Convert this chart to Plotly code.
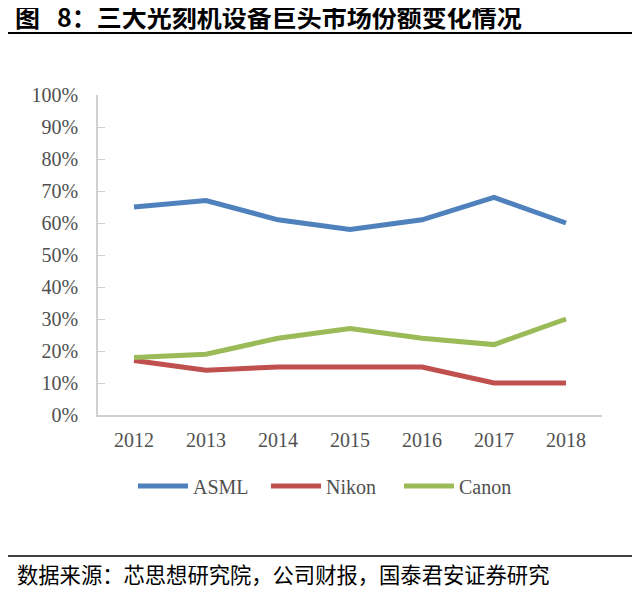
import plotly.graph_objects as go

# Data (market share, %)
years = ["2012", "2013", "2014", "2015", "2016", "2017", "2018"]
asml = [65, 67, 61, 58, 61, 68, 60]
nikon = [17, 14, 15, 15, 15, 10, 10]
canon = [18, 19, 24, 27, 24, 22, 30]

series_names = ["ASML", "Nikon", "Canon"]
series_colors = ["#4F81BD", "#C0504D", "#9BBB59"]

title_text = "图\u00a0\u00a0\u00a08：三大光刻机设备巨头市场份额变化情况"
source_text = "数据来源：芯思想研究院，公司财报，国泰君安证券研究"

# the page body has an 8px margin, so the figure is 8px smaller
OFF = 8
W, H = 640 - OFF, 591 - OFF
L, R, T, B = 98 - OFF, 38, 95 - OFF, 176
pw, ph = W - L - R, H - T - B


# helpers: reference-picture pixels -> paper coords
def px_x(x):
    return (x - OFF - L) / pw


def px_y(y):
    return (H - B - (y - OFF)) / ph


fig = go.Figure()
for name, vals, col in zip(series_names, [asml, nikon, canon], series_colors):
    fig.add_trace(go.Scatter(
        x=years, y=[v / 100 for v in vals], name=name, mode="lines",
        line=dict(color=col, width=5),
    ))

axis_font = dict(family="Liberation Serif", size=20, color="#505050")

fig.update_layout(
    width=W, height=H,
    margin=dict(l=L, r=R, t=T, b=B),
    paper_bgcolor="white", plot_bgcolor="white",
    showlegend=True,
    legend=dict(
        orientation="h", x=px_x(133), y=px_y(486), xanchor="left", yanchor="middle",
        font=axis_font, itemwidth=50, entrywidth=68, tracegroupgap=0,
    ),
    title=dict(
        text=title_text, xref="container", yref="container",
        x=(15 - OFF) / W, y=1 - (18 - OFF) / H, xanchor="left", yanchor="middle",
        font=dict(family="Noto Sans CJK SC", size=25, color="black", weight="bold"),
    ),
    xaxis=dict(
        type="category", range=[-0.5, 6.5], showgrid=False, zeroline=False,
        showline=True, linecolor="#d0d0d0", linewidth=1.5, ticks="",
        tickfont=axis_font, ticklabelstandoff=6,
    ),
    yaxis=dict(
        range=[0, 1], dtick=0.1, tickformat=".0%", showgrid=False, zeroline=False,
        showline=True, linecolor="#d0d0d0", linewidth=1.5,
        ticks="inside", ticklen=7, tickcolor="#d0d0d0",
        tickfont=axis_font, ticklabelstandoff=14,
    ),
)

# title and source rules
fig.add_shape(type="line", xref="paper", yref="paper",
              x0=px_x(0), x1=px_x(640), y0=px_y(33), y1=px_y(33),
              line=dict(color="black", width=2))
fig.add_shape(type="line", xref="paper", yref="paper",
              x0=px_x(0), x1=px_x(640), y0=px_y(556), y1=px_y(556),
              line=dict(color="black", width=1.5))

fig.add_annotation(
    text=source_text, xref="paper", yref="paper",
    x=px_x(15), y=px_y(573), xanchor="left", yanchor="middle", showarrow=False,
    font=dict(family="Noto Sans CJK SC", size=21.3, color="black"),
)

fig.write_html("out.html")
